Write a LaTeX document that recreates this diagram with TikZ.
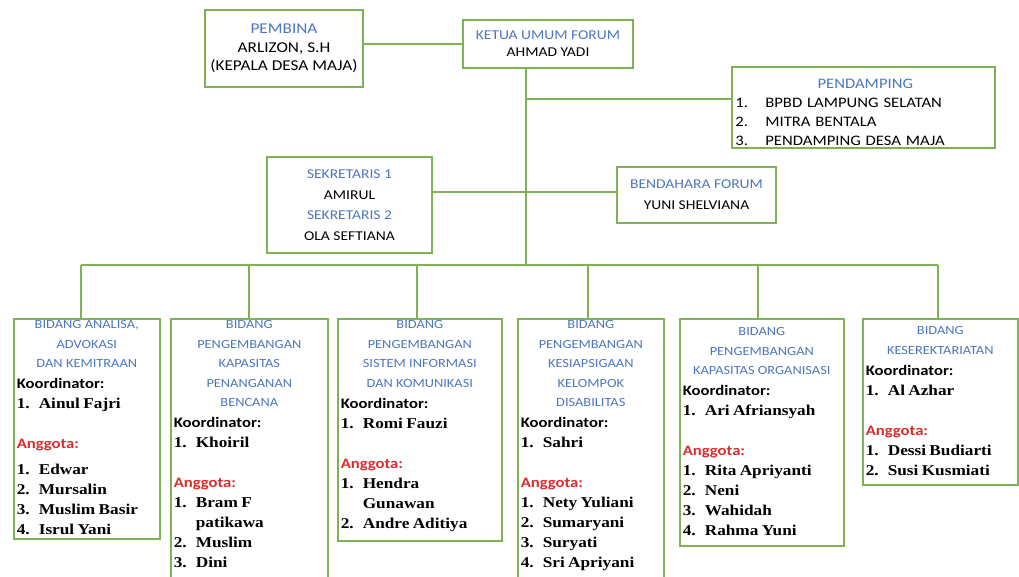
\documentclass[tikz,border=0pt]{standalone}
\usepackage{fontspec}
\setmainfont{Carlito}[FakeStretch=1.15]
\newfontfamily\tms{Liberation Serif}[FakeStretch=1.15]
\usepackage{xcolor}
\usetikzlibrary{positioning}

\definecolor{grn}{RGB}{125,178,85}
\definecolor{biru}{RGB}{78,118,190}
\definecolor{merah}{RGB}{215,45,45}

% isi kotak bidang
\newcommand{\judul}[1]{{\centering\color{biru}\fontsize{12.5}{19.5}\selectfont #1\par}}
\newcommand{\butir}[2]{{\tms\bfseries\fontsize{15}{20}\selectfont\noindent\hangindent=22pt\hangafter=1\makebox[22pt][l]{#1}#2\par}}
\newcommand{\koor}[1]{{\fontsize{14.5}{21}\selectfont\bfseries Koordinator:\par}\butir{1.}{#1}}
\newcommand{\angg}{\vspace{20pt}{\color{merah}\fontsize{14.5}{20}\selectfont\bfseries Anggota:\par}}
% isi kotak pendamping
\newcommand{\pendisi}{{\centering\color{biru}PENDAMPING\par}
     \makebox[30pt][l]{1.}BPBD LAMPUNG SELATAN\\
     \makebox[30pt][l]{2.}MITRA BENTALA\\
     \makebox[30pt][l]{3.}PENDAMPING DESA MAJA}

\begin{document}
\begin{tikzpicture}[
    x=1pt, y=-1pt,
    jabatan/.style={rectangle, draw=grn, line width=1.6pt, align=center, inner sep=0pt},
    bidang/.style={rectangle, draw=grn, line width=1.6pt, anchor=north west, inner xsep=3pt, inner ysep=0pt, align=left},
    garis/.style={draw=grn, line width=1.6pt}
]
\useasboundingbox (0,0) rectangle (1019,576);
\clip (0,0) rectangle (1019,576);

% Pembina dan Ketua
\node[jabatan, minimum width=158pt, minimum height=77pt, font=\fontsize{15}{18.5}\selectfont] (pembina) at (284,48.5) {{\color{biru}PEMBINA}\\ARLIZON, S.H\\(KEPALA DESA MAJA)};
\node[jabatan, minimum width=170pt, minimum height=48pt, font=\fontsize{13.5}{17}\selectfont] (ketua) at (548,44) {{\color{biru}KETUA UMUM FORUM}\\AHMAD YADI};

% Pendamping
\node[jabatan, minimum width=263pt, minimum height=81pt, path picture={
    \node[draw=none, fill=none, anchor=north west, inner sep=0pt, text width=260pt, text height=9pt, align=left, font=\fontsize{14.5}{19}\selectfont] (pendteks) at ([xshift=1pt, yshift=-4pt]path picture bounding box.north west) {\pendisi};
}] (pend) at (863.5,107.5) {};

% Sekretaris dan Bendahara
\node[jabatan, minimum width=165pt, minimum height=96pt, font=\fontsize{13.5}{20.5}\selectfont] (sek) at (349.5,205) {{\color{biru}SEKRETARIS 1}\\AMIRUL\\{\color{biru}SEKRETARIS 2}\\OLA SEFTIANA};
\node[jabatan, minimum width=159pt, minimum height=56pt, font=\fontsize{13.5}{21}\selectfont] (bend) at (696.5,195) {{\color{biru}BENDAHARA FORUM}\\YUNI SHELVIANA};

% Bidang-bidang
\node[bidang, text width=140pt, text height=10pt, text depth=210pt] (b1) at (13,318) {%
    \judul{BIDANG ANALISA,\\ADVOKASI\\DAN KEMITRAAN}\koor{Ainul Fajri}\angg\vspace{6pt}
    \butir{1.}{Edwar}\butir{2.}{Mursalin}\butir{3.}{Muslim Basir}\butir{4.}{Isrul Yani}};
\node[bidang, text width=151pt, text height=10pt, text depth=290pt] (b2) at (170,318) {%
    \judul{BIDANG\\PENGEMBANGAN\\KAPASITAS\\PENANGANAN\\BENCANA}\koor{Khoiril}\angg
    \butir{1.}{Bram F\newline patikawa}\butir{2.}{Muslim}\butir{3.}{Dini}};
\node[bidang, text width=158pt, text height=10pt, text depth=212pt] (b3) at (337,318) {%
    \judul{BIDANG\\PENGEMBANGAN\\SISTEM INFORMASI\\DAN KOMUNIKASI}\koor{Romi Fauzi}\angg
    \butir{1.}{Hendra\newline Gunawan}\butir{2.}{Andre Aditiya}};
\node[bidang, text width=140pt, text height=10pt, text depth=290pt] (b4) at (517,318) {%
    \judul{BIDANG\\PENGEMBANGAN\\KESIAPSIGAAN\\KELOMPOK\\DISABILITAS}\koor{Sahri}\angg
    \butir{1.}{Nety Yuliani}\butir{2.}{Sumaryani}\butir{3.}{Suryati}\butir{4.}{Sri Apriyani}};
\node[bidang, text width=158pt, text height=17pt, text depth=210pt] (b5) at (679,318) {%
    \judul{BIDANG\\PENGEMBANGAN\\KAPASITAS ORGANISASI}\koor{Ari Afriansyah}\angg
    \butir{1.}{Rita Apriyanti}\butir{2.}{Neni}\butir{3.}{Wahidah}\butir{4.}{Rahma Yuni}};
\node[bidang, text width=149pt, text height=16pt, text depth=150pt] (b6) at (862,318) {%
    \judul{BIDANG\\KESEREKTARIATAN}\koor{Al Azhar}\angg
    \butir{1.}{Dessi Budiarti}\butir{2.}{Susi Kusmiati}};

% Garis
\coordinate (cabang) at (526,265);
\coordinate (jpend) at (526,99);
\coordinate (jsek) at (526,192);
\draw[garis] (pembina.east |- ketua.west) -- (ketua.west);
\draw[garis] (ketua.south -| cabang) -- (cabang);
\draw[garis] (jpend) -- (jpend -| pend.west);
\draw[garis] (jsek -| sek.east) -- (jsek -| bend.west);
\draw[garis] ([xshift=-6pt]b1.north |- cabang) -- ([xshift=-2pt]b6.north |- cabang);
\foreach \b/\s in {b1/-6,b2/-0.5,b3/-3,b4/-3,b5/-4,b6/-2.5}
    \draw[garis] ([xshift=\s pt]\b.north |- cabang) -- ([xshift=\s pt]\b.north);

\end{tikzpicture}
\end{document}
